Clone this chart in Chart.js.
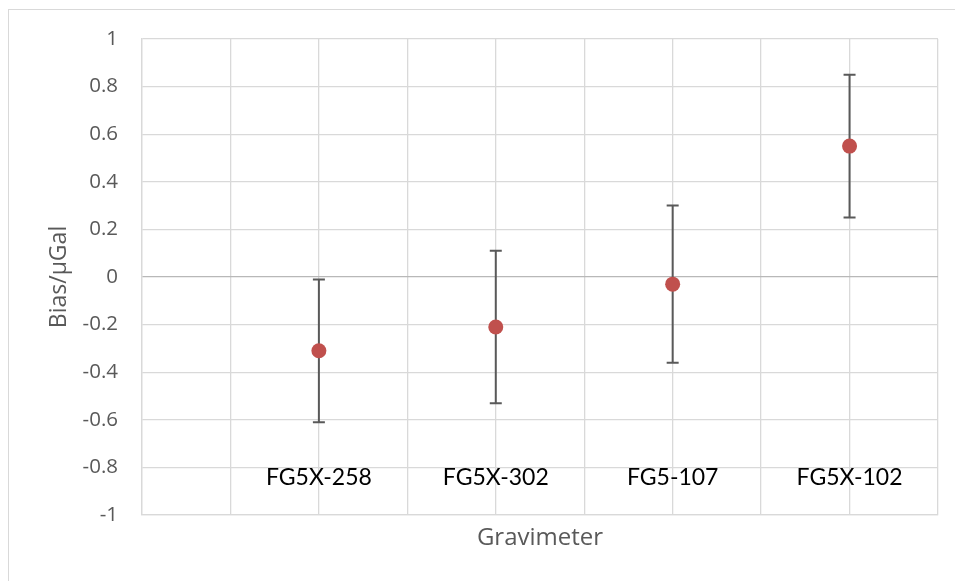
<!DOCTYPE html>
<html>
<head>
<meta charset="utf-8">
<script src="https://cdn.jsdelivr.net/npm/chart.js@4"></script>
<style>
html, body { margin: 0; padding: 0; overflow: hidden; background: #fff; }
#wrap { position: relative; width: 955px; height: 581px; }
#frame { position: absolute; left: 8px; top: 9px; width: 1200px; height: 900px; border: 1.5px solid #d9d9d9; pointer-events: none; }
</style>
</head>
<body>
<div id="wrap">
  <canvas id="myChart" width="955" height="581"></canvas>
  <div id="frame"></div>
</div>
<script>
// data
const gravimeters = ['FG5X-258', 'FG5X-302', 'FG5-107', 'FG5X-102'];
const positions = [1, 2, 3, 4];
const bias = [-0.31, -0.21, -0.03, 0.55];
const errLow = [-0.61, -0.53, -0.36, 0.25];
const errHigh = [-0.01, 0.11, 0.30, 0.85];
const yTicks = [-1, -0.8, -0.6, -0.4, -0.2, 0, 0.2, 0.4, 0.6, 0.8, 1];
const xGrid = [0, 0.5, 1, 1.5, 2, 2.5, 3, 3.5, 4, 4.5];

const errorBars = {
    id: 'errorBars',
    beforeDatasetsDraw(chart) {
        const c = chart.ctx;
        const xs = chart.scales.x;
        const ys = chart.scales.y;
        c.save();
        c.strokeStyle = '#595959';
        c.lineWidth = 2;
        for (let i = 0; i < positions.length; i++) {
            const px = xs.getPixelForValue(positions[i]);
            const lo = ys.getPixelForValue(errLow[i]);
            const hi = ys.getPixelForValue(errHigh[i]);
            c.beginPath();
            c.moveTo(px, lo); c.lineTo(px, hi);
            c.moveTo(px - 6, lo); c.lineTo(px + 6, lo);
            c.moveTo(px - 6, hi); c.lineTo(px + 6, hi);
            c.stroke();
        }
        c.restore();
    }
};

const ctx = document.getElementById('myChart');

new Chart(ctx, {
type: 'scatter',
data: {
    datasets: [{
        label: 'Bias',
        data: positions.map((p, i) => ({ x: p, y: bias[i] })),
        backgroundColor: '#C0504D',
        borderColor: '#C0504D',
        borderWidth: 0,
        pointRadius: 7.5,
        pointHoverRadius: 7.5
    }]
},
options: {
    responsive: false,
    animation: false,
    layout: {
        padding: { top: 39, right: 17, left: 0, bottom: 0 }
    },
    plugins: {
        legend: { display: false },
        tooltip: { enabled: false }
    },
    scales: {
        x: {
            type: 'linear',
            min: 0,
            max: 4.5,
            afterBuildTicks: (s) => { s.ticks = xGrid.map(v => ({ value: v })); },
            afterFit: (s) => { s.height = 66; },
            ticks: { display: false },
            grid: { color: '#d9d9d9', lineWidth: 1.3, drawTicks: false },
            border: { color: '#d9d9d9', width: 1.3 },
            title: {
                display: true,
                text: 'Gravimeter',
                color: '#595959',
                font: { family: 'Open Sans', size: 24 },
                padding: { top: 0, bottom: 28 }
            }
        },
        x2: {
            type: 'linear',
            axis: 'x',
            position: { y: -0.8 },
            min: 0,
            max: 4.5,
            afterBuildTicks: (s) => { s.ticks = positions.map(v => ({ value: v })); },
            ticks: {
                color: '#000000',
                padding: -4,
                font: { family: 'Lato', size: 23 },
                callback: (v) => gravimeters[positions.indexOf(v)]
            },
            grid: { display: false, drawTicks: false },
            border: { display: false }
        },
        y: {
            min: -1,
            max: 1,
            afterBuildTicks: (s) => { s.ticks = yTicks.map(v => ({ value: v })); },
            afterFit: (s) => { s.width = 142; },
            ticks: {
                color: '#595959',
                padding: 24,
                font: { family: 'Open Sans', size: 20.5 },
                callback: (v) => String(Math.round(v * 10) / 10)
            },
            grid: {
                color: (c) => (c.tick && c.tick.value === 0) ? '#b8b8b8' : '#d9d9d9',
                lineWidth: 1.3,
                drawTicks: false
            },
            border: { color: '#d9d9d9', width: 1.3 },
            title: {
                display: true,
                text: 'Bias/μGal',
                color: '#595959',
                font: { family: 'Open Sans', size: 23 },
                padding: { top: 46, bottom: 0 }
            }
        }
    }
},
plugins: [errorBars]
})
</script>
</body>
</html>
